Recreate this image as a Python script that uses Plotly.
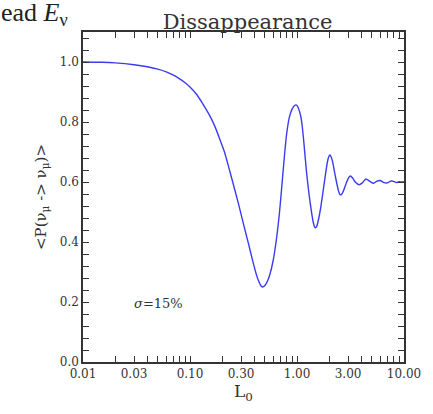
import plotly.graph_objects as go

# Baseline L0 values and energy-averaged survival probability
L0 = [0.01, 0.015, 0.02, 0.03, 0.04, 0.05, 0.06, 0.07, 0.08, 0.09, 0.1,
      0.116, 0.13, 0.152, 0.17, 0.188, 0.21, 0.231, 0.255, 0.284, 0.315,
      0.35, 0.385, 0.42, 0.44, 0.46, 0.475, 0.49, 0.51, 0.53, 0.556, 0.60,
      0.64, 0.68, 0.71, 0.76, 0.80, 0.85, 0.90, 0.95, 0.98, 1.01, 1.05,
      1.09, 1.12, 1.16, 1.23, 1.30, 1.37, 1.42, 1.46, 1.49, 1.53, 1.60,
      1.67, 1.80, 1.92, 1.98, 2.03, 2.08, 2.15, 2.28, 2.42, 2.50, 2.58,
      2.7, 2.9, 3.05, 3.15, 3.3, 3.5, 3.8, 4.1, 4.4, 4.8, 5.2, 5.6, 6.0,
      6.5, 7.0, 7.5, 8.0, 8.5, 9.0, 9.5, 10.0]
P_surv = [1.000, 0.999, 0.997, 0.991, 0.984, 0.976, 0.967, 0.956, 0.944,
          0.931, 0.917, 0.891, 0.864, 0.823, 0.787, 0.747, 0.700, 0.647,
          0.590, 0.527, 0.462, 0.398, 0.338, 0.288, 0.268, 0.254, 0.250,
          0.252, 0.259, 0.270, 0.290, 0.340, 0.405, 0.485, 0.557, 0.680,
          0.760, 0.817, 0.843, 0.855, 0.857, 0.853, 0.838, 0.815, 0.785,
          0.730, 0.630, 0.555, 0.497, 0.465, 0.450, 0.447, 0.453, 0.480,
          0.517, 0.598, 0.665, 0.684, 0.690, 0.685, 0.668, 0.620, 0.576,
          0.560, 0.557, 0.568, 0.598, 0.615, 0.620, 0.614, 0.600, 0.591,
          0.598, 0.610, 0.602, 0.596, 0.603, 0.605, 0.598, 0.597, 0.603,
          0.602, 0.598, 0.601, 0.600, 0.601]

# labelled ticks
x_major = [0.01, 0.03, 0.1, 0.3, 1, 3, 10]
x_major_text = ["0.01", "0.03", "0.10", "0.30", "1.00", "3.00", "10.00"]
y_major = [0.0, 0.2, 0.4, 0.6, 0.8, 1.0]
y_major_text = ["0.0", "0.2", "0.4", "0.6", "0.8", "1.0"]
# unlabelled ticks in between
x_minor = [0.02, 0.04, 0.05, 0.06, 0.07, 0.08, 0.09,
           0.2, 0.4, 0.5, 0.6, 0.7, 0.8, 0.9,
           2, 4, 5, 6, 7, 8, 9]
y_minor = [round(0.04 * i, 2) for i in range(28) if i % 5 != 0]

SERIF = "DejaVu Serif"
INK = "#333333"

fig = go.Figure(go.Scatter(
    x=L0, y=P_surv, mode="lines",
    line=dict(color="#3b3bf0", width=1.4, shape="spline", smoothing=0.6),
    showlegend=False,
))

axis_common = dict(
    showgrid=False, zeroline=False,
    showline=True, linecolor=INK, linewidth=1.5,
    mirror="allticks", ticks="inside", ticklen=6, tickwidth=1.2,
    tickcolor=INK, tickfont=dict(family=SERIF, size=12, color=INK),
)

fig.update_layout(
    width=433, height=414,
    margin=dict(l=83, r=21, t=32, b=52),
    paper_bgcolor="white", plot_bgcolor="white",
    title=dict(text="Dissappearance", x=0.5 * (83 + 412) / 433, xanchor="center",
               y=1 - 22 / 414, yanchor="middle",
               font=dict(family=SERIF, size=21, color=INK)),
    xaxis=dict(
        type="log", range=[-2, 1],
        tickmode="array", tickvals=x_major + x_minor,
        ticktext=x_major_text + [""] * len(x_minor),
        title=dict(text="L<sub>0</sub>", font=dict(family=SERIF, size=17, color=INK),
                   standoff=4),
        **axis_common,
    ),
    yaxis=dict(
        range=[0, 1.1],
        tickmode="array", tickvals=y_major + y_minor,
        ticktext=y_major_text + [""] * len(y_minor),
        title=dict(text="<P(ν<sub>μ</sub> -> ν<sub>μ</sub>)>",
                   font=dict(family=SERIF, size=15, color=INK), standoff=10),
        **axis_common,
    ),
    annotations=[
        dict(text="<i>σ</i>=15%", xref="paper", yref="paper",
             x=(160 - 83) / 329, y=(362 - 303) / 330,
             xanchor="center", yanchor="middle", showarrow=False,
             font=dict(family=SERIF, size=13, color=INK)),
        dict(text="ead <i>E</i><sub>ν</sub>", xref="paper", yref="paper",
             x=(-3 - 83) / 329, y=(362 + 4) / 330,
             xanchor="left", yanchor="top", showarrow=False,
             font=dict(family="Liberation Serif", size=26, color="#222222")),
    ],
)

fig.write_html("out.html")
